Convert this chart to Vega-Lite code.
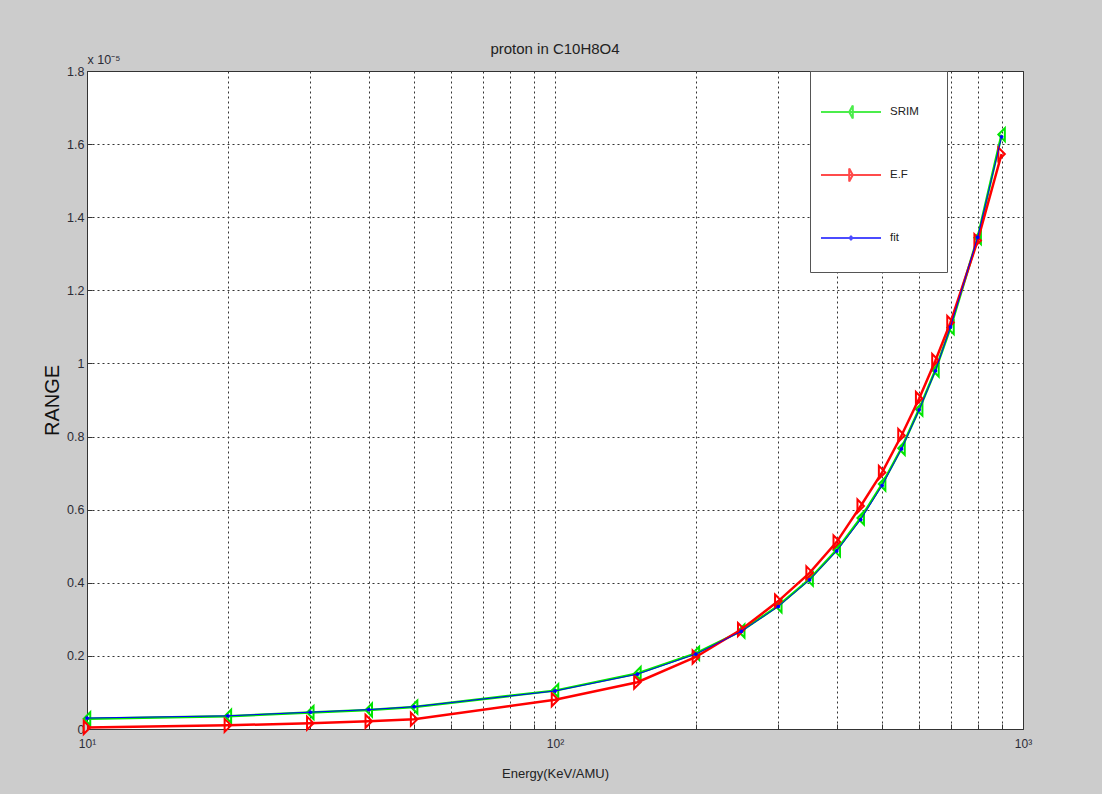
{
  "$schema": "https://vega.github.io/schema/vega-lite/v6.json",
  "width": 936,
  "height": 658,
  "autosize": {"type": "none"},
  "padding": {"left": 87, "top": 71, "right": 79, "bottom": 65},
  "background": "#cccccc",
  "config": {
    "view": {"fill": "white", "stroke": "#333333", "strokeWidth": 1},
    "font": "Liberation Sans",
    "axis": {
      "domain": false,
      "grid": true,
      "gridColor": "#333333",
      "gridDash": [2, 3],
      "gridOpacity": 1,
      "gridWidth": 1,
      "tickColor": "#333333",
      "tickSize": -5,
      "labelFont": "Liberation Sans",
      "labelColor": "#2b2b35",
      "labelOverlap": false,
      "labelBound": false,
      "labelFlush": false,
      "titleFontWeight": "normal"
    }
  },
  "title": {
    "text": "proton in C10H8O4",
    "font": "Liberation Sans",
    "fontSize": 15,
    "fontWeight": "normal",
    "color": "#222222",
    "anchor": "middle",
    "frame": "group",
    "offset": -4
  },
  "data": {
    "values": [
      {"energy": 10, "series": "SRIM", "range": 2.8e-7},
      {"energy": 20, "series": "SRIM", "range": 3.5e-7},
      {"energy": 30, "series": "SRIM", "range": 4.5e-7},
      {"energy": 40, "series": "SRIM", "range": 5.2e-7},
      {"energy": 50, "series": "SRIM", "range": 6.0e-7},
      {"energy": 100, "series": "SRIM", "range": 1.05e-6},
      {"energy": 150, "series": "SRIM", "range": 1.52e-6},
      {"energy": 200, "series": "SRIM", "range": 2.07e-6},
      {"energy": 250, "series": "SRIM", "range": 2.68e-6},
      {"energy": 300, "series": "SRIM", "range": 3.37e-6},
      {"energy": 350, "series": "SRIM", "range": 4.10e-6},
      {"energy": 400, "series": "SRIM", "range": 4.90e-6},
      {"energy": 450, "series": "SRIM", "range": 5.77e-6},
      {"energy": 500, "series": "SRIM", "range": 6.70e-6},
      {"energy": 550, "series": "SRIM", "range": 7.68e-6},
      {"energy": 600, "series": "SRIM", "range": 8.75e-6},
      {"energy": 650, "series": "SRIM", "range": 9.82e-6},
      {"energy": 700, "series": "SRIM", "range": 1.098e-5},
      {"energy": 800, "series": "SRIM", "range": 1.344e-5},
      {"energy": 900, "series": "SRIM", "range": 1.626e-5},
      {"energy": 10, "series": "E.F", "range": 4.0e-8},
      {"energy": 20, "series": "E.F", "range": 1.0e-7},
      {"energy": 30, "series": "E.F", "range": 1.6e-7},
      {"energy": 40, "series": "E.F", "range": 2.1e-7},
      {"energy": 50, "series": "E.F", "range": 2.7e-7},
      {"energy": 100, "series": "E.F", "range": 8.0e-7},
      {"energy": 150, "series": "E.F", "range": 1.28e-6},
      {"energy": 200, "series": "E.F", "range": 1.97e-6},
      {"energy": 250, "series": "E.F", "range": 2.72e-6},
      {"energy": 300, "series": "E.F", "range": 3.50e-6},
      {"energy": 350, "series": "E.F", "range": 4.27e-6},
      {"energy": 400, "series": "E.F", "range": 5.12e-6},
      {"energy": 450, "series": "E.F", "range": 6.10e-6},
      {"energy": 500, "series": "E.F", "range": 7.02e-6},
      {"energy": 550, "series": "E.F", "range": 8.03e-6},
      {"energy": 600, "series": "E.F", "range": 9.04e-6},
      {"energy": 650, "series": "E.F", "range": 1.008e-5},
      {"energy": 700, "series": "E.F", "range": 1.112e-5},
      {"energy": 800, "series": "E.F", "range": 1.336e-5},
      {"energy": 900, "series": "E.F", "range": 1.573e-5},
      {"energy": 10, "series": "fit", "range": 3.0e-7},
      {"energy": 20, "series": "fit", "range": 3.6e-7},
      {"energy": 30, "series": "fit", "range": 4.6e-7},
      {"energy": 40, "series": "fit", "range": 5.3e-7},
      {"energy": 50, "series": "fit", "range": 6.1e-7},
      {"energy": 100, "series": "fit", "range": 1.04e-6},
      {"energy": 150, "series": "fit", "range": 1.50e-6},
      {"energy": 200, "series": "fit", "range": 2.05e-6},
      {"energy": 250, "series": "fit", "range": 2.67e-6},
      {"energy": 300, "series": "fit", "range": 3.35e-6},
      {"energy": 350, "series": "fit", "range": 4.08e-6},
      {"energy": 400, "series": "fit", "range": 4.87e-6},
      {"energy": 450, "series": "fit", "range": 5.73e-6},
      {"energy": 500, "series": "fit", "range": 6.66e-6},
      {"energy": 550, "series": "fit", "range": 7.66e-6},
      {"energy": 600, "series": "fit", "range": 8.73e-6},
      {"energy": 650, "series": "fit", "range": 9.80e-6},
      {"energy": 700, "series": "fit", "range": 1.100e-5},
      {"energy": 800, "series": "fit", "range": 1.345e-5},
      {"energy": 900, "series": "fit", "range": 1.620e-5}
    ]
  },
  "encoding": {
    "x": {
      "field": "energy",
      "type": "quantitative",
      "scale": {"type": "log", "domain": [10, 1000], "nice": false},
      "axis": {
        "values": [10, 20, 30, 40, 50, 60, 70, 80, 90, 100, 200, 300, 400, 500, 600, 700, 800, 900, 1000],
        "labelExpr": "datum.value == 10 ? '10¹' : datum.value == 100 ? '10²' : datum.value == 1000 ? '10³' : ''",
        "labelFontSize": 12,
        "labelPadding": 14,
        "title": "Energy(KeV/AMU)",
        "titleFont": "Liberation Sans",
        "titleFontSize": 13,
        "titleColor": "#222222",
        "titlePadding": 18
      }
    }
  },
  "layer": [
    {
      "encoding": {
        "y": {
          "field": "range",
          "type": "quantitative",
          "scale": {"domain": [0, 1.8e-5], "nice": false, "zero": true},
          "axis": {
            "values": [0, 2e-6, 4e-6, 6e-6, 8e-6, 1e-5, 1.2e-5, 1.4e-5, 1.6e-5, 1.8e-5],
            "labelExpr": "format(datum.value * 100000, '.2~g')",
            "labelFontSize": 12.5,
            "labelPadding": 8,
            "title": "RANGE",
            "titleFont": "Liberation Sans",
            "titleFontSize": 20,
            "titleColor": "#111111",
            "titlePadding": 4
          }
        }
      },
      "layer": [
        {
          "transform": [{"filter": "datum.series === 'SRIM'"}],
          "mark": {
            "type": "line",
            "color": "#00e600",
            "strokeWidth": 2.5,
            "point": {"filled": false, "shape": "M0.5,-1L-0.5,0L0.5,1Z", "size": 169, "strokeWidth": 2, "color": "#00e600"}
          }
        },
        {
          "transform": [{"filter": "datum.series === 'E.F'"}],
          "mark": {
            "type": "line",
            "color": "#ff0000",
            "strokeWidth": 2.5,
            "point": {"filled": false, "shape": "M-0.5,-1L0.5,0L-0.5,1Z", "size": 169, "strokeWidth": 2, "color": "#ff0000"}
          }
        },
        {
          "transform": [{"filter": "datum.series === 'fit'"}],
          "mark": {
            "type": "line",
            "color": "#0000ff",
            "strokeWidth": 1,
            "point": {"filled": true, "shape": "circle", "size": 14, "color": "#0000ff"}
          }
        }
      ]
    },
    {
      "transform": [{"filter": "datum.energy < 0"}],
      "mark": {"type": "point", "filled": false, "strokeWidth": 2},
      "encoding": {
        "y": {
          "field": "range",
          "type": "quantitative",
          "axis": {
            "orient": "left",
            "labels": false,
            "ticks": false,
            "grid": false,
            "domain": false,
            "title": "x 10⁻⁵",
            "titleAngle": 0,
            "titleX": 0,
            "titleY": -8,
            "titleAlign": "left",
            "titleBaseline": "alphabetic",
            "titleFont": "Liberation Sans",
            "titleFontSize": 12.5,
            "titleColor": "#2b2b35"
          }
        },
        "color": {
          "field": "series",
          "type": "nominal",
          "scale": {"domain": ["SRIM", "E.F", "fit"], "range": ["#00e600", "#ff0000", "#0000ff"]},
          "legend": {
            "orient": "none",
            "legendX": 723,
            "legendY": 0,
            "title": " ",
            "titleOrient": "bottom",
            "titleFontSize": 2,
            "titlePadding": 16,
            "padding": 10,
            "fillColor": "white",
            "strokeColor": "#555555",
            "labelFont": "Liberation Sans",
            "labelFontSize": 11.5,
            "labelColor": "#222222",
            "labelOffset": 8,
            "symbolSize": 3600,
            "symbolStrokeWidth": 2,
            "rowPadding": 21,
            "labelExpr": "datum.label + '\u2800\u2800'"
          }
        },
        "shape": {
          "field": "series",
          "type": "nominal",
          "scale": {
            "domain": ["SRIM", "E.F", "fit"],
            "range": [
              "M-1,0L1,0M0.06,-0.22L-0.06,0L0.06,0.22Z",
              "M-1,0L1,0M-0.06,-0.22L0.06,0L-0.06,0.22Z",
              "M-1,0L1,0M0,-0.05L0.05,0L0,0.05L-0.05,0Z"
            ]
          }
        }
      }
    }
  ],
  "resolve": {"axis": {"y": "independent"}}
}
